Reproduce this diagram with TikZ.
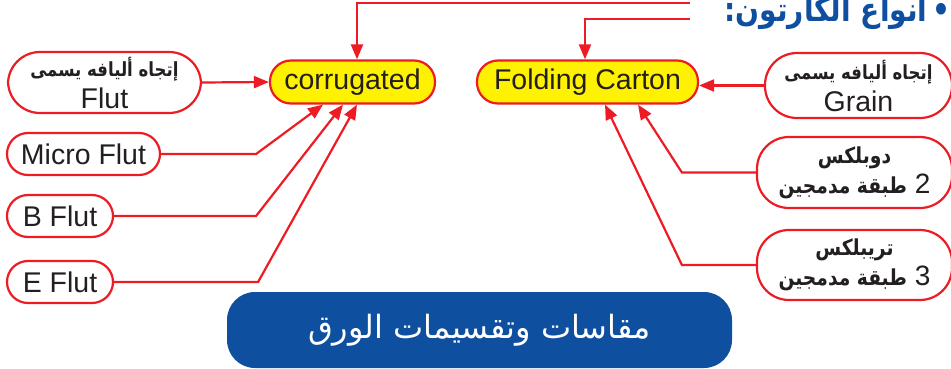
\documentclass[tikz,border=0pt]{standalone}
\usepackage{fontspec}
\setmainfont{Liberation Sans}
\newfontfamily\arabicfont[Script=Arabic]{DejaVu Sans}
\newfontfamily\arabicnarrow[Script=Arabic,FakeStretch=0.85]{DejaVu Sans}
\TeXXeTstate=1
\usetikzlibrary{positioning}
\usetikzlibrary{arrows.meta}
\usetikzlibrary{calc}
\definecolor{linered}{HTML}{ED1C24}
\definecolor{boxyellow}{HTML}{FFF200}
\definecolor{bannerblue}{HTML}{0F4FA0}
\definecolor{inkgray}{HTML}{231F20}
\newcommand{\artext}[1]{{\arabicnarrow\bfseries\fontsize{19.5}{20}\selectfont\beginR #1\endR}}
\newcommand{\arlayer}[1]{{\arabicnarrow\bfseries\fontsize{22}{22}\selectfont\beginR #1\endR}}
\tikzset{
  pill/.style={draw=linered, line width=2.2pt, fill=white, text=inkgray,
    inner sep=0pt, align=center, font=\fontsize{28.5}{30}\selectfont},
  kind/.style={pill, fill=boxyellow, minimum height=43pt, rounded corners=21pt},
  small/.style={pill, minimum height=42pt, rounded corners=21pt},
  twoline/.style={pill, rounded corners=32pt},
  link/.style={draw=linered, line width=2.2pt, -{Triangle[length=15pt,width=12pt]}}
}

\begin{document}
\begin{tikzpicture}[x=1pt,y=-1pt]
  \path[use as bounding box] (0,0) rectangle (951,369);

  % kinds of carton
  \node[kind, minimum width=165pt] (corr) at (352.5,82) {corrugated};
  \node[kind, minimum width=221pt] (fold) at (587.5,82) {Folding Carton};

  % corrugated side
  \node[twoline, minimum width=193pt, minimum height=61pt] (flut) at (104.5,82.5)
    {\artext{إتجاه أليافه يسمى}\\[2pt]Flut};
  \node[small, minimum width=153pt] (micro) at (83.5,154) {Micro Flut};
  \node[small, minimum width=106pt] (bflut) at (60,216) {B Flut};
  \node[small, minimum width=106pt] (eflut) at (60,282) {E Flut};

  % folding carton side
  \node[twoline, minimum width=187pt, minimum height=65pt] (grain) at (858.5,85.5)
    {\artext{إتجاه أليافه يسمى}\\[2pt]Grain};
  \node[twoline, minimum width=195pt, minimum height=71pt] (duplex) at (854.5,172.5)
    {\arlayer{دوبلكس}\\\beginR{\fontsize{28}{30}\selectfont 2} \arlayer{طبقة مدمجين}\endR};
  \node[twoline, minimum width=195pt, minimum height=70pt] (triplex) at (854.5,265)
    {\arlayer{تريبلكس}\\\beginR{\fontsize{28}{30}\selectfont 3} \arlayer{طبقة مدمجين}\endR};

  % title and banner
  \node[anchor=base east, text=bannerblue, inner sep=0pt,
    font=\arabicnarrow\bfseries\fontsize{33}{34}\selectfont]
    (title) at (951,22) {\beginR •\,أنواع الكارتون:\endR};
  \node[fill=bannerblue, rounded corners=28pt, minimum width=505pt, minimum height=76pt,
    text=white, font=\arabicfont\fontsize{32}{34}\selectfont] (banner) at (479.5,330)
    {\beginR مقاسات وتقسيمات الورق\endR};

  \coordinate (t1) at (690,3);
  \coordinate (t2) at (690,19);

  \draw[link] (t1) -| ([xshift=4.5pt]corr.north);
  \draw[link] (t2) -| ([xshift=-2.5pt]fold.north);
  \draw[link] (flut.east) -- (corr.west);
  \draw[link] (micro.east) -- ++(95,0) -- ([xshift=-29.5pt]corr.south);
  \draw[link] (bflut.east) -- ++(142,0) -- ([xshift=-9.5pt]corr.south);
  \draw[link] (eflut.east) -- ++(144,0) -- ([xshift=4.5pt]corr.south);
  \draw[link] (grain.west) -- (grain.west -| fold.east);
  \draw[link] (duplex.west) -- ++(-74,0) -- ([xshift=50.5pt]fold.south);
  \draw[link] (triplex.west) -- ++(-74,0) -- ([xshift=17.5pt]fold.south);
\end{tikzpicture}
\end{document}
